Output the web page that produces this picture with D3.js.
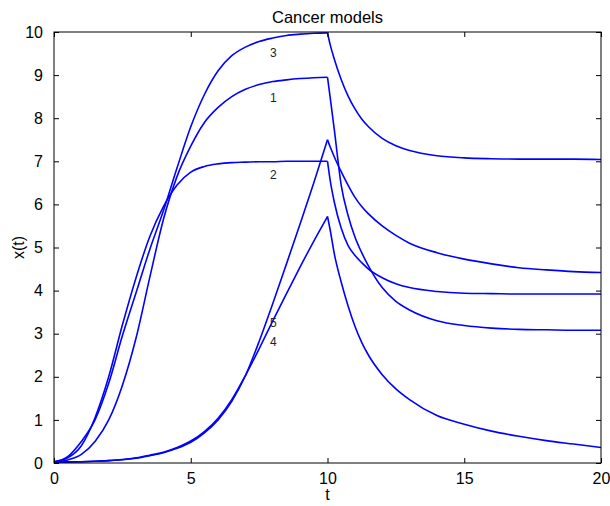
<!DOCTYPE html>
<html>
<head>
<meta charset="utf-8">
<script src="https://cdn.jsdelivr.net/npm/d3@7"></script>
<style>
  html, body { margin: 0; padding: 0; background: #fff; }
  svg { display: block; font-family: "Liberation Sans", Arial, Helvetica, sans-serif; }
</style>
</head>
<body>
<svg id="chart" width="610" height="506"></svg>
<script>
// ---- Data ----
const title = "Cancer models";
const xLabel = "t";
const yLabel = "x(t)";
const xTicks = [0, 5, 10, 15, 20];
const yTicks = [0, 1, 2, 3, 4, 5, 6, 7, 8, 9, 10];

// growth phase sample times and decay (after t = 10) sample times
const tGrow  = [0, 0.5, 1, 1.5, 2, 2.5, 3, 3.5, 4, 4.5, 5, 5.5, 6, 6.5, 7, 7.5, 8, 8.5, 9, 9.5, 10];
const tDecay = [10, 10.1, 10.25, 10.5, 10.75, 11, 11.25, 11.5, 12, 12.5, 13, 14, 15, 16, 17, 18, 19, 20];

const model1Grow  = [0.02, 0.07, 0.2, 0.5, 1.0, 1.8, 2.9, 4.3, 5.65, 6.65, 7.35, 7.9, 8.25, 8.5, 8.67, 8.78, 8.85, 8.89, 8.92, 8.94, 8.95];
const model1Decay = [8.95, 8.47, 7.73, 6.45, 5.75, 5.25, 4.88, 4.57, 4.07, 3.75, 3.55, 3.3, 3.19, 3.13, 3.1, 3.09, 3.08, 3.08];

const model2Grow  = [0.03, 0.12, 0.4, 1.05, 2.0, 3.2, 4.3, 5.25, 5.95, 6.45, 6.75, 6.88, 6.94, 6.97, 6.98, 6.99, 6.99, 7.0, 7.0, 7.0, 7.0];
const model2Decay = [7.0, 6.55, 6.05, 5.45, 5.05, 4.82, 4.65, 4.5, 4.3, 4.16, 4.07, 3.98, 3.94, 3.93, 3.92, 3.92, 3.92, 3.92];

const model3Grow  = [0.03, 0.15, 0.5, 1.0, 1.85, 2.95, 3.95, 4.95, 5.85, 6.85, 7.8, 8.55, 9.1, 9.45, 9.65, 9.78, 9.86, 9.92, 9.95, 9.97, 9.98];
const model3Decay = [9.98, 9.7, 9.37, 8.9, 8.52, 8.22, 7.98, 7.8, 7.53, 7.36, 7.25, 7.13, 7.08, 7.06, 7.05, 7.05, 7.05, 7.04];

const model4Grow  = [0.02, 0.025, 0.03, 0.04, 0.055, 0.08, 0.12, 0.18, 0.25, 0.36, 0.51, 0.73, 1.04, 1.47, 2.03, 2.65, 3.3, 3.93, 4.55, 5.15, 5.72];
const model4Decay = [5.72, 5.4, 4.85, 4.2, 3.65, 3.18, 2.8, 2.5, 2.05, 1.72, 1.47, 1.1, 0.9, 0.74, 0.62, 0.52, 0.44, 0.36];

const model5Grow  = [0.02, 0.025, 0.03, 0.04, 0.055, 0.075, 0.11, 0.17, 0.24, 0.34, 0.48, 0.7, 1.0, 1.43, 2.03, 2.82, 3.7, 4.62, 5.55, 6.5, 7.5];
const model5Decay = [7.5, 7.33, 7.1, 6.76, 6.45, 6.17, 5.95, 5.78, 5.5, 5.28, 5.1, 4.88, 4.73, 4.62, 4.53, 4.48, 4.44, 4.42];

// curve labels: text, t position, x position
const labelText = ["3", "1", "2", "5", "4"];
const labelT    = [7.9, 7.9, 7.9, 7.9, 7.9];
const labelX    = [9.52, 8.48, 6.69, 3.25, 2.82];

// ---- Build ----
const series = [
  { grow: model1Grow, decay: model1Decay },
  { grow: model2Grow, decay: model2Decay },
  { grow: model3Grow, decay: model3Decay },
  { grow: model4Grow, decay: model4Decay },
  { grow: model5Grow, decay: model5Decay }
];

const W = 610, H = 506;
const margin = { left: 54, right: 9, top: 32, bottom: 43 };
const svg = d3.select("#chart");

const x = d3.scaleLinear().domain([0, 20]).range([margin.left, W - margin.right]);
const y = d3.scaleLinear().domain([0, 10]).range([H - margin.bottom, margin.top]);

const blue = "#0000ff";
const line = d3.line()
  .x(d => x(d[0]))
  .y(d => y(d[1]))
  .curve(d3.curveMonotoneX);

const gLines = svg.append("g");
series.forEach(s => {
  const g = tGrow.map((t, i) => [t, s.grow[i]]);
  const dcy = tDecay.map((t, i) => [t, s.decay[i]]);
  gLines.append("path").attr("d", line(g))
    .attr("fill", "none").attr("stroke", blue).attr("stroke-width", 1.6)
    .attr("stroke-linejoin", "round");
  gLines.append("path").attr("d", line(dcy))
    .attr("fill", "none").attr("stroke", blue).attr("stroke-width", 1.6)
    .attr("stroke-linejoin", "round");
});

// box
svg.append("rect")
  .attr("x", x(0)).attr("y", y(10))
  .attr("width", x(20) - x(0)).attr("height", y(0) - y(10))
  .attr("fill", "none").attr("stroke", "#000").attr("stroke-width", 1);

const tickLen = 5;
const xAxisB = d3.axisBottom(x).tickValues(xTicks).tickSizeInner(-tickLen).tickSizeOuter(0).tickPadding(10).tickFormat(d3.format("d"));
const gxb = svg.append("g").attr("transform", `translate(0,${y(0)})`).call(xAxisB);
const xAxisT = d3.axisTop(x).tickValues(xTicks).tickSizeInner(-tickLen).tickSizeOuter(0).tickFormat("");
const gxt = svg.append("g").attr("transform", `translate(0,${y(10)})`).call(xAxisT);
const yAxisL = d3.axisLeft(y).tickValues(yTicks).tickSizeInner(-tickLen).tickSizeOuter(0).tickPadding(11).tickFormat(d3.format("d"));
const gyl = svg.append("g").attr("transform", `translate(${x(0)},0)`).call(yAxisL);
const yAxisR = d3.axisRight(y).tickValues(yTicks).tickSizeInner(-tickLen).tickSizeOuter(0).tickFormat("");
const gyr = svg.append("g").attr("transform", `translate(${x(20)},0)`).call(yAxisR);

[gxb, gxt, gyl, gyr].forEach(g => {
  g.select(".domain").remove();
  g.selectAll(".tick line").attr("stroke", "#000");
  g.selectAll(".tick text").attr("fill", "#000").attr("font-size", 16)
    .attr("font-family", "'Liberation Sans', Arial, Helvetica, sans-serif");
});

// curve labels
svg.append("g").selectAll("text").data(labelText).join("text")
  .attr("x", (d, i) => x(labelT[i]))
  .attr("y", (d, i) => y(labelX[i]))
  .attr("dy", "0.35em")
  .attr("font-size", 12)
  .attr("fill", "#222")
  .text(d => d);

// title and axis labels
svg.append("text").attr("x", (x(0) + x(20)) / 2).attr("y", 23)
  .attr("text-anchor", "middle").attr("font-size", 16.5).attr("fill", "#000").text(title);
svg.append("text").attr("x", (x(0) + x(20)) / 2).attr("y", 500)
  .attr("text-anchor", "middle").attr("font-size", 16).attr("fill", "#000").text(xLabel);
svg.append("text").attr("transform", `translate(24,${(y(0) + y(10)) / 2}) rotate(-90)`)
  .attr("text-anchor", "middle").attr("font-size", 16).attr("fill", "#000").text(yLabel);
</script>
</body>
</html>
